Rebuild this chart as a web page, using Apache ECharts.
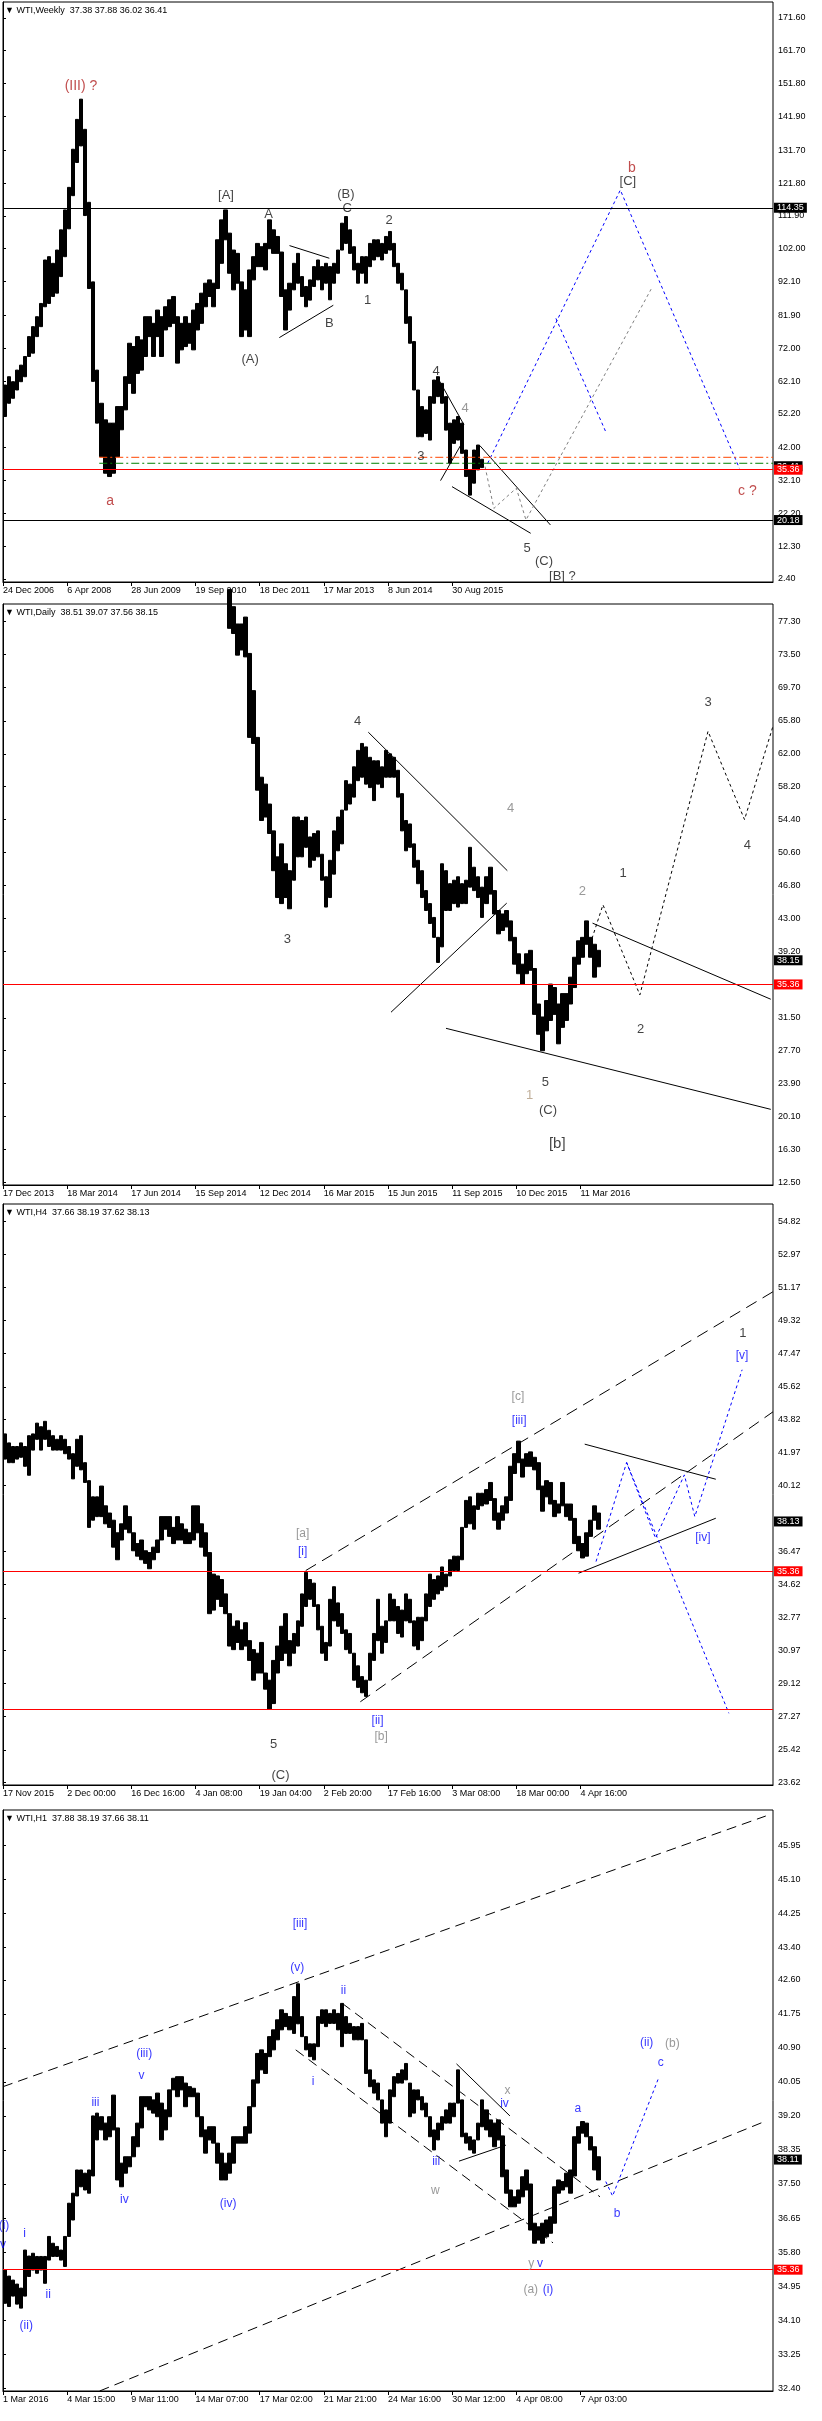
<!DOCTYPE html>
<html><head><meta charset="utf-8">
<script src="https://cdn.jsdelivr.net/npm/echarts@6/dist/echarts.min.js"></script>
<style>html,body{margin:0;padding:0;background:#fff}#c{width:822px;height:2421px}</style>
</head><body><div id="c"></div>
<script>
// ---------- DATA ----------
const N = 192; // price samples per panel (each sample = a few bars)

const weeklyHigh = [60.9,63.4,61.9,65.4,66.9,69.5,75.5,78.5,81.5,85.5,98.6,99.6,97.6,101.6,107.7,113.7,120.5,132,141,147.1,138,116,92,65.4,55.4,50.4,49.4,49.4,54.4,54.4,63.4,73.5,72.5,75.5,74.5,81.5,81.5,79.5,83.5,81.5,84.5,86.6,87.6,81.5,79.5,81.5,79.5,83.5,85.5,88.6,91.6,92.6,91.6,104.7,110.7,113.7,106.7,101.6,100.6,92,89.6,95.6,99.6,103.6,102.6,103.6,110.7,107.7,105.7,101,89.6,91.6,97.6,100.6,93.6,90.6,92.6,96.6,98.6,96.6,97.6,96.6,97.6,101.6,109.7,111.7,107.7,102.6,97.6,99.6,99.6,103.6,104.7,104.7,103.6,105.7,107.2,103.6,97.6,94.6,89.6,81.5,74,59.4,54.4,53.4,57.4,62.4,63.4,61.4,57.4,49.4,50.4,51.4,49.4,41.3,35.3,41.3,42.8,38.5];
const weeklyLow  = [51.4,55.4,56.9,59.4,61.9,63.4,69.5,70.5,75.5,78.5,84.5,85.5,87.6,88.6,93.6,99.6,108,118,128,133,112,90,62,49.4,39.3,34.3,33.3,34.3,39.3,47.4,53.4,61.4,58.4,64.4,65.4,69.5,75.5,69.5,75.5,69.5,77.5,78.5,79.5,67.5,71.5,72.5,73.5,71.5,77.5,79.5,84.5,87.6,84.5,90,97.6,104.7,94.6,89.6,91.6,75.5,77.5,75.5,92.6,96.6,96.6,95.6,102,100.6,100.6,87.6,77.5,83.5,89.6,91.6,87.6,84.5,86.5,90.6,92.6,89.6,91.6,86.6,91.6,94.6,101.6,103.6,100.6,95.6,91.6,94.6,91.6,96.6,98.6,99.6,98.6,100.6,101.6,96.6,91.6,89.6,79.5,73.5,59.4,45.3,45.3,46.3,44.3,55.4,57.4,55.4,47.3,37.3,43.3,44.3,40.3,33.3,27.7,31.3,35.3,36.0];

const dailyStart = 56;
const dailyHigh = [81,79,77.0,77.0,77.8,73.6,69.3,63.9,59.3,58.5,56.2,53.1,50.1,51.6,49.3,48.5,54.7,54.7,54.3,54.7,52.4,52.8,53.1,50.4,47.8,49.7,53.1,54.7,55.5,58.9,58.5,60.5,62.4,63.2,62.8,61.6,61.2,61.2,60.5,62.4,62.0,61.6,60.1,57.4,54.3,53.9,51.6,49.7,48.5,46.2,44.7,43.1,40.8,49.3,48.5,47.0,47.4,47.8,47.0,47.4,51.2,48.9,47.8,46.6,47.8,48.9,46.2,43.9,43.5,43.9,42.7,40.8,38.9,37.7,38.9,39.3,37.2,33.1,31.6,33.5,35.4,35.0,33.1,34.3,34.3,36.2,38.5,40.4,40.8,42.7,40.8,40.0,39.3];
const dailyLow  = [76.5,75.9,73.4,74.0,73.2,63.9,63.2,57.8,54.3,54.7,52.8,48.5,45.4,44.7,45.4,44.1,47.4,50.1,50.1,51.2,48.9,49.7,50.1,47.4,44.3,45.4,48.1,50.8,51.6,55.5,56.2,57.0,58.9,59.3,58.5,58.1,56.6,58.5,58.1,59.3,59.3,59.3,57.0,53.1,50.8,51.2,48.9,47.0,45.4,43.9,42.4,40.8,37.9,39.7,43.9,43.9,44.7,44.3,44.7,44.7,46.6,46.2,45.4,43.1,44.7,45.8,43.5,41.2,41.6,42.0,40.4,37.7,36.6,35.4,36.6,37.0,31.9,29.6,27.7,30.0,31.2,31.9,28.5,30.4,31.2,33.1,35.0,37.7,38.5,40.0,38.5,36.2,37.4];

const h4High = [43.0,42.5,42.3,42.3,42.5,42.3,42.9,43.0,43.6,43.4,43.7,43.2,42.9,42.7,42.9,42.7,42.3,41.9,42.7,42.9,41.4,40.4,39.5,39.5,40.1,39.0,38.6,38.2,37.5,38.0,39.0,38.4,37.5,36.9,37.1,36.5,36.4,36.7,37.1,38.4,38.4,38.4,37.8,38.4,38.0,37.7,37.5,39.0,39.0,38.0,37.5,36.4,35.2,35.1,34.9,34.1,33.0,32.3,32.6,32.1,32.5,31.5,31.0,30.8,31.4,29.7,29.3,30.4,31.2,32.3,33.0,31.5,31.9,32.6,34.1,35.3,34.9,34.7,33.5,32.3,31.4,33.8,34.5,33.6,33.0,32.1,31.9,30.8,30.1,29.5,29.3,30.8,31.9,33.8,32.3,32.6,34.1,33.8,33.4,33.2,34.1,33.8,32.6,32.8,32.8,34.1,35.2,34.9,35.1,35.6,35.2,36.0,36.2,36.2,37.8,39.3,39.5,39.0,39.7,39.7,39.9,40.3,39.4,38.6,39.0,39.5,41.2,41.9,42.6,41.6,41.9,42.0,41.7,41.4,40.1,40.4,40.3,39.3,39.1,40.3,39.1,39.1,38.3,37.3,36.9,37.5,38.2,39.0,38.6];
const h4Low  = [41.6,41.4,41.4,41.6,41.7,41.2,40.7,42.1,42.7,42.1,42.7,42.3,42.1,42.1,42.1,41.9,41.6,40.5,41.2,41.0,40.3,37.8,38.2,38.4,38.4,38.0,37.8,36.7,36.0,37.1,37.7,37.5,36.5,36.2,36.0,35.8,35.5,36.0,36.4,37.1,37.7,37.3,36.9,37.1,37.1,36.9,36.9,37.1,37.5,36.7,36.2,33.0,33.2,33.8,33.4,33.0,31.2,31.0,31.4,31.0,31.2,30.4,29.3,29.7,29.7,28.8,27.7,28.0,29.7,30.4,30.8,30.1,30.8,31.2,32.3,33.4,33.8,33.4,32.1,30.8,30.4,31.2,32.6,32.3,31.9,31.0,30.8,29.3,28.9,28.6,28.4,29.3,30.4,31.5,30.8,31.4,32.6,32.6,31.9,31.7,32.6,32.5,31.2,31.0,31.5,32.6,33.4,33.8,34.1,34.3,34.5,35.1,35.4,35.4,36.0,37.8,38.0,37.7,38.8,39.0,39.1,39.3,38.2,37.7,38.2,38.6,39.3,40.8,41.4,40.6,41.2,41.2,41.0,39.9,38.7,39.5,39.1,38.4,38.6,39.0,38.4,38.2,36.9,36.5,36.1,36.2,37.3,38.2,37.7];

const h1High = [35.35,35.2,35.1,35.0,34.9,35.85,35.7,35.77,35.69,35.69,35.69,36.19,36.02,35.94,35.85,36.19,37.02,37.27,37.85,37.85,37.77,37.85,39.2,39.27,39.18,39.02,39.18,39.72,38.9,38.02,38.18,38.18,38.68,39.02,39.68,39.68,39.68,39.6,39.77,39.52,39.35,39.85,40.14,40.18,40.18,40.02,39.93,39.89,39.77,39.18,38.85,38.93,38.93,38.52,38.27,38.02,38.27,38.68,38.68,38.68,38.93,39.43,40.1,40.76,40.85,40.76,41.18,41.35,41.6,41.85,41.76,41.68,42.18,42.5,41.68,41.18,41.0,41.0,41.68,41.85,41.85,41.76,41.85,41.76,42.01,41.68,41.51,41.43,41.43,41.51,41.1,40.35,40.1,40.02,39.6,39.35,39.85,40.18,40.26,40.35,40.51,40.02,39.85,39.85,39.68,39.52,39.18,38.85,39.02,39.18,39.35,39.52,39.52,40.35,39.6,38.77,38.68,38.6,39.02,39.6,39.35,39.1,39.02,39.1,38.7,37.85,37.35,37.18,37.35,37.68,37.85,37.5,36.52,36.43,36.52,36.6,36.68,37.43,37.6,37.56,37.77,37.85,38.68,38.93,39.06,39.02,38.68,38.43,38.18];
const h1Low  = [34.52,34.44,34.7,34.5,34.4,34.7,35.19,35.35,35.27,35.35,35.02,35.6,35.69,35.69,35.6,35.44,36.19,36.6,37.2,37.43,37.35,37.27,37.7,38.6,38.85,38.6,38.68,38.85,37.6,37.43,37.77,37.93,38.18,38.43,38.9,39.43,39.35,39.27,39.18,38.6,38.85,39.18,39.85,39.68,39.85,39.43,39.68,39.68,39.18,38.68,38.27,38.6,38.52,38.02,37.6,37.6,37.77,38.02,38.52,38.52,38.52,38.77,39.43,40.02,40.35,40.26,40.68,40.85,41.1,41.35,41.43,41.35,41.26,41.5,41.18,40.85,40.68,40.6,40.93,41.51,41.43,41.51,41.51,41.35,40.93,41.26,41.26,41.1,41.1,41.1,40.26,39.93,39.77,39.6,39.02,38.68,39.02,39.68,40.02,40.02,40.1,39.18,39.27,39.6,39.35,39.18,38.68,38.35,38.6,38.85,39.02,39.02,39.18,39.52,38.68,38.52,38.35,38.27,38.6,38.93,38.85,38.68,38.43,38.6,37.68,37.27,36.93,36.93,37.02,37.18,37.35,36.35,36.02,36.1,36.02,36.18,36.27,36.52,37.27,37.35,37.43,37.27,37.7,38.52,38.77,38.68,38.35,37.85,37.6];

// x-axis tick labels (one every 16 samples)
const weeklyDates = ['24 Dec 2006','6 Apr 2008','28 Jun 2009','19 Sep 2010','18 Dec 2011','17 Mar 2013','8 Jun 2014','30 Aug 2015'];
const dailyDates  = ['17 Dec 2013','18 Mar 2014','17 Jun 2014','15 Sep 2014','12 Dec 2014','16 Mar 2015','15 Jun 2015','11 Sep 2015','10 Dec 2015','11 Mar 2016'];
const h4Dates     = ['17 Nov 2015','2 Dec 00:00','16 Dec 16:00','4 Jan 08:00','19 Jan 04:00','2 Feb 20:00','17 Feb 16:00','3 Mar 08:00','18 Mar 00:00','4 Apr 16:00'];
const h1Dates     = ['1 Mar 2016','4 Mar 15:00','9 Mar 11:00','14 Mar 07:00','17 Mar 02:00','21 Mar 21:00','24 Mar 16:00','30 Mar 12:00','4 Apr 08:00','7 Apr 03:00'];

// y-axis tick labels
const weeklyTicks = [171.6,161.7,151.8,141.9,131.7,121.8,111.9,102.0,92.1,81.9,72.0,62.1,52.2,42.0,32.1,22.2,12.3,2.4];
const dailyTicks  = [77.3,73.5,69.7,65.8,62.0,58.2,54.4,50.6,46.8,43.0,39.2,31.5,27.7,23.9,20.1,16.3,12.5];
const h4Ticks     = [54.82,52.97,51.17,49.32,47.47,45.62,43.82,41.97,40.12,36.47,34.62,32.77,30.97,29.12,27.27,25.42,23.62];
const h1Ticks     = [45.95,45.10,44.25,43.40,42.60,41.75,40.90,40.05,39.20,38.35,37.50,36.65,35.80,34.95,34.10,33.25,32.40];

// horizontal price levels
const weeklyLevels = {black:[114.35,20.18], red:[35.36], boxBlack:[36.41], dashDotOrange:39.1, dashDotGreen:37.3};
const dailyLevels  = {red:[35.36], boxBlack:[38.15]};
const h4Levels     = {red:[35.36], redNoBox:[27.68], boxBlack:[38.13]};
const h1Levels     = {red:[35.36], boxBlack:[38.11]};

// wave labels [sample position, price, text]
const weeklyLabelsBlack = [[55.6,118.2,'[A]'],[66.2,112.2,'A'],[85.5,118.5,'(B)'],[85.8,114.1,'C'],[96.3,110.4,'2'],[90.9,86.35,'1'],[81.4,79.5,'B'],[61.6,68.5,'(A)'],[108.0,65.1,'4'],[104.2,39.3,'3'],[130.7,11.7,'5'],[134.9,7.65,'(C)'],[139.5,3.3,'[B] ?'],[155.8,122.2,'[C]']];
const weeklyLabelsRed   = [[19.45,151.1,'(III) ?'],[26.7,25.9,'a'],[156.8,126.3,'b'],[185.6,28.8,'c ?']];
const weeklyLabelsGray  = [[115.2,53.9,'4']];
const dailyLabelsBlack  = [[88.45,65.8,'4'],[70.9,40.6,'3'],[154.6,48.2,'1'],[175.8,67.9,'3'],[185.6,51.4,'4'],[159.0,30.2,'2'],[135.25,24.05,'5'],[135.9,20.86,'(C)']];
const dailyLabelsBig    = [[138.2,17.0,'[b]']];
const dailyLabelsGray   = [[126.6,55.65,'4'],[144.45,46.1,'2']];
const dailyLabelsTan    = [[131.3,22.5,'1']];
const h4LabelsBlack     = [[184.5,48.6,'1'],[67.5,25.7,'5'],[69.2,24.03,'(C)']];
const h4LabelsBlue      = [[128.7,43.75,'[iii]'],[184.3,47.35,'[v]'],[174.5,37.2,'[iv]'],[74.7,36.46,'[i]'],[93.4,27.05,'[ii]']];
const h4LabelsGray      = [[128.4,45.08,'[c]'],[74.7,37.44,'[a]'],[94.3,26.16,'[b]']];
const h1LabelsBlue      = [[74.06,44.0,'[iii]'],[73.4,42.9,'(v)'],[84.9,42.32,'ii'],[77.3,40.06,'i'],[35.2,40.76,'(iii)'],[34.56,40.2,'v'],[23.04,39.54,'iii'],[30.25,37.12,'iv'],[56.13,37.02,'(iv)'],[5.39,36.27,'i'],[11.27,34.73,'ii'],[5.79,33.96,'(ii)'],[0.25,36.46,'(i)'],[0,35.98,'v'],[125.05,39.51,'iv'],[108.0,38.06,'iii'],[133.9,35.5,'v'],[135.9,34.85,'(i)'],[143.35,39.39,'a'],[153.15,36.77,'b'],[164.0,40.53,'c'],[160.5,41.03,'(ii)']];
const h1LabelsGray      = [[125.8,39.83,'x'],[107.8,37.34,'w'],[131.7,35.5,'y'],[131.6,34.85,'(a)'],[166.9,41.01,'(b)']];

// trend lines / projections [sample position, price]
const weeklySolid = [[[71.44,102.94],[81.37,99.13]],[[68.9,75.2],[82.36,84.95]],[[108.2,63.5],[114.95,48.9]],[[111.96,30.26],[131.58,16.19]],[[109.1,32.07],[114.3,43.13]],[[118.9,42.63],[136.5,18.7]]];
const weeklyBlueDot = [[[120.86,37.3],[153.93,119.7],[183.62,35.8]],[[137.87,81.0],[150.28,46.85]]];
const weeklyGrayDot = [[[120.2,36.3],[122.4,23.7],[128.0,29.8],[130.4,20.2],[161.6,89.8]]];
const dailySolid = [[[91.09,64.5],[125.75,48.5]],[[96.75,32.15],[125.6,44.75]],[[110.46,30.29],[191.45,20.93]],[[147.0,42.44],[191.45,33.65]]];
const dailyBlackDot = [[[146.4,40.0],[149.6,44.56],[158.8,34.15],[175.8,64.6],[184.9,54.4],[192.1,65.36]]];
const h4Dashed = [[[75.48,35.4],[192,50.91]],[[89.1,28.1],[192,44.23]]];
const h4Solid = [[[145.05,42.43],[177.74,40.48]],[[143.5,35.25],[177.74,38.31]]];
const h4BlueDot = [[[147.87,35.9],[155.5,41.41],[162.7,37.2],[169.9,40.72],[172.5,38.4],[184.3,46.57]],[[155.5,41.41],[181.0,27.46]]];
const h1Dashed = [[[0,39.93],[190.2,46.69]],[[24.09,32.33],[190.16,39.07]],[[84.6,42.01],[148.86,37.18]],[[72.99,40.85],[137.14,36.03]]];
const h1Solid = [[[113.08,40.5],[126.4,39.2]],[[113.7,38.07],[125.4,38.47]]];
const h1BlueDot = [[[150.3,37.56],[152.0,37.2],[163.6,40.18]]];

// ---------- CHART ----------
const FONT = "'Liberation Sans', Arial, sans-serif";
const C = {black:'#000000', red:'#B22222', gray:'#808080', blue:'#0000FF', tan:'#B09A80', line:'#FF0000'};

const panels = [
  {top:2, height:580, min:1.5, max:176.4, title:'\u25BC WTI,Weekly  37.38 37.88 36.02 36.41', high:weeklyHigh, low:weeklyLow, start:0, dates:weeklyDates, ticks:weeklyTicks, levels:weeklyLevels},
  {top:604, height:581, min:12.19, max:79.31, title:'\u25BC WTI,Daily  38.51 39.07 37.56 38.15', high:dailyHigh, low:dailyLow, start:dailyStart, dates:dailyDates, ticks:dailyTicks, levels:dailyLevels},
  {top:1204, height:581, min:23.47, max:55.79, title:'\u25BC WTI,H4  37.66 38.19 37.62 38.13', high:h4High, low:h4Low, start:0, dates:h4Dates, ticks:h4Ticks, levels:h4Levels},
  {top:1810, height:581, min:32.33, max:46.84, title:'\u25BC WTI,H1  37.88 38.19 37.66 38.11', high:h1High, low:h1Low, start:0, dates:h1Dates, ticks:h1Ticks, levels:h1Levels}
];

const cats = Array.from({length:N}, (_, i) => i);

function candles(p) {
  const out = [];
  for (let k = 0; k < N; k++) {
    const j = k - p.start;
    if (j >= 0 && j < p.high.length) out.push([p.low[j], p.high[j], p.low[j], p.high[j]]);
    else out.push(['-','-','-','-']);
  }
  return out;
}

function markLines(lv) {
  const d = [];
  const box = (v, bg, showLine, lineColor) => ({
    yAxis: v,
    lineStyle: {color: showLine ? lineColor : 'rgba(0,0,0,0)', width: 1, type: 'solid'},
    label: {show: true, position: 'end', distance: 1, formatter: v.toFixed(2), backgroundColor: bg, color: '#fff', padding: [1, 3, 0, 3], fontSize: 9, fontFamily: FONT, lineHeight: 9}
  });
  (lv.boxBlack || []).forEach(v => d.push(box(v, '#000', false)));
  (lv.black || []).forEach(v => d.push(box(v, '#000', true, '#000')));
  (lv.redNoBox || []).forEach(v => d.push({yAxis: v, lineStyle: {color: C.line, width: 1, type: 'solid'}, label: {show: false}}));
  (lv.red || []).forEach(v => d.push(box(v, C.line, true, C.line)));
  return d;
}

const option = {
  animation: false,
  backgroundColor: '#fff',
  title: panels.map(p => ({text: p.title, left: 5, top: p.top + 4, padding: 0, textStyle: {fontSize: 9, fontWeight: 'normal', color: '#000', fontFamily: FONT}})),
  grid: panels.map(p => ({left: 3, right: 49, top: p.top, height: p.height, show: true, borderColor: '#000', borderWidth: 1, backgroundColor: '#fff'})),
  xAxis: [],
  yAxis: [],
  series: []
};

panels.forEach((p, gi) => {
  const tickPos = p.dates.map((_, m) => m * 16);
  option.xAxis.push({type: 'category', gridIndex: gi, data: cats, show: false, boundaryGap: true, position: 'top'});
  option.xAxis.push({
    type: 'value', gridIndex: gi, min: 0, max: N, position: 'bottom',
    splitLine: {show: false},
    axisLine: {show: true, lineStyle: {color: '#000', width: 1}},
    axisTick: {show: true, customValues: tickPos, length: 4, lineStyle: {color: '#000'}},
    axisLabel: {show: true, customValues: tickPos, formatter: v => p.dates[Math.round(v / 16)] || '', align: 'left', margin: 4, fontSize: 9, color: '#000', fontFamily: FONT}
  });
  option.yAxis.push({
    type: 'value', gridIndex: gi, position: 'right', min: p.min, max: p.max,
    splitLine: {show: false},
    axisLine: {show: true, lineStyle: {color: '#000', width: 1}},
    axisTick: {show: true, customValues: p.ticks, length: 3, lineStyle: {color: '#000'}},
    axisLabel: {show: true, customValues: p.ticks, formatter: v => Number(v).toFixed(2), margin: 5, fontSize: 9, color: '#000', fontFamily: FONT}
  });
  option.series.push({
    type: 'candlestick', xAxisIndex: gi * 2, yAxisIndex: gi, data: candles(p), barWidth: '100%', clip: true, silent: true,
    itemStyle: {color: '#000', color0: '#000', borderColor: '#000', borderColor0: '#000', borderWidth: 1},
    markLine: {symbol: 'none', silent: true, animation: false, data: markLines(p.levels)},
    z: 2
  });
});

function addLines(gi, groups, color, type, width) {
  groups.forEach(pts => option.series.push({
    type: 'line', xAxisIndex: gi * 2 + 1, yAxisIndex: gi, data: pts, symbol: 'none', showSymbol: false, silent: true,
    lineStyle: {color: color, width: width || 1, type: type}, z: 3
  }));
}
function addLabels(gi, items, color, size) {
  option.series.push({
    type: 'scatter', xAxisIndex: gi * 2 + 1, yAxisIndex: gi, symbolSize: 1, clip: false, silent: true,
    itemStyle: {color: 'rgba(0,0,0,0)'},
    data: items.map(d => ({value: [d[0], d[1]], label: {formatter: d[2]}})),
    label: {show: true, position: 'inside', color: color, fontSize: size, fontFamily: FONT},
    z: 5
  });
}

// weekly
addLines(0, weeklySolid, '#000', 'solid', 1);
addLines(0, weeklyBlueDot, C.blue, [3, 3], 1);
addLines(0, weeklyGrayDot, C.gray, [3, 3], 1);
addLines(0, [[[24, weeklyLevels.dashDotOrange], [N, weeklyLevels.dashDotOrange]]], '#FF4500', [8, 3, 2, 3], 1);
addLines(0, [[[24, weeklyLevels.dashDotGreen], [N, weeklyLevels.dashDotGreen]]], '#008000', [8, 3, 2, 3], 1);
addLabels(0, weeklyLabelsBlack, '#111', 13);
addLabels(0, weeklyLabelsRed, C.red, 14);
addLabels(0, weeklyLabelsGray, C.gray, 13);
// daily
addLines(1, dailySolid, '#000', 'solid', 1);
addLines(1, dailyBlackDot, '#000', [3, 3], 1);
addLabels(1, dailyLabelsBlack, '#111', 13);
addLabels(1, dailyLabelsBig, '#111', 15);
addLabels(1, dailyLabelsGray, C.gray, 13);
addLabels(1, dailyLabelsTan, C.tan, 13);
// H4
addLines(2, h4Dashed, '#000', [12, 7], 1);
addLines(2, h4Solid, '#000', 'solid', 1);
addLines(2, h4BlueDot, C.blue, [3, 3], 1);
addLabels(2, h4LabelsBlack, '#111', 13);
addLabels(2, h4LabelsBlue, C.blue, 12);
addLabels(2, h4LabelsGray, C.gray, 12);
// H1
addLines(3, h1Dashed, '#000', [10, 6], 1);
addLines(3, h1Solid, '#000', 'solid', 1);
addLines(3, h1BlueDot, C.blue, [3, 3], 1);
addLabels(3, h1LabelsBlue, C.blue, 12);
addLabels(3, h1LabelsGray, C.gray, 12);

const chart = echarts.init(document.getElementById('c'), null, {renderer: 'canvas', width: 822, height: 2421});
chart.setOption(option);
</script>
</body></html>
